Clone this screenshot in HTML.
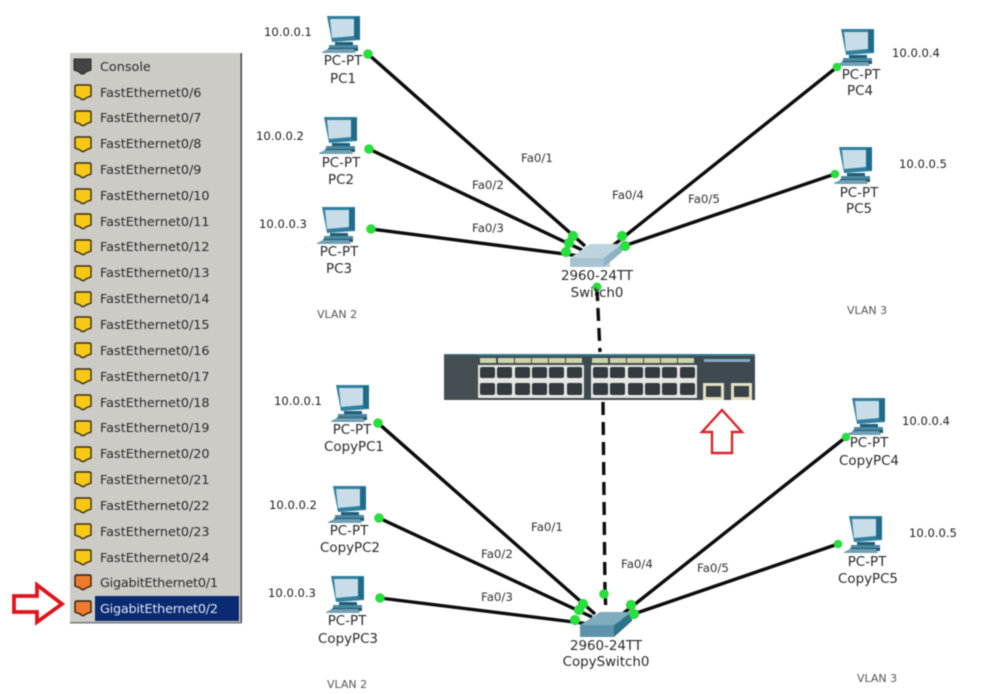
<!DOCTYPE html>
<html><head><meta charset="utf-8"><style>
html,body{margin:0;padding:0;background:#fff;width:982px;height:694px;overflow:hidden}
svg{display:block;filter:blur(.4px)}
text{font-family:"DejaVu Sans","Liberation Sans",sans-serif;font-size:12px;fill:#222}
.m{text-anchor:middle}
.s{font-size:11.600px;fill:#222}
.f{font-size:11.800px;fill:#333}
.v{font-size:11px;fill:#555}
.p{font-size:13.400px;fill:#2a2a2a}
.t{font-size:12.800px;fill:#2a2a2a}
.l{stroke:#0c0c0c;stroke-width:3.400;fill:none}
.d{fill:#22e33a;stroke:#4bbf50;stroke-width:.6}
</style></head><body>
<svg width="982" height="694" viewBox="0 0 982 694" xmlns="http://www.w3.org/2000/svg">
<defs>
<g id="pc">
<path d="M6 0H39V24L11 26Z" fill="#2f7f9f"/>
<path d="M9 3H33V20L11 22Z" fill="#c8dde8"/>
<path d="M33 1H39V24L33 22Z" fill="#1f6c8a"/>
<rect x="14" y="26" width="18" height="3" fill="#1d5f78"/>
<rect x="8" y="29" width="29" height="3" fill="#4b8aa2"/>
<path d="M7 32H37V35H7Z" fill="#23566c"/>
<path d="M1 36L7 33H33L35 37H1Z" fill="#6fa0b4"/>
</g>
<g id="y"><path d="M0 1.500Q0 0 2 0H14Q16 0 16 1.500V11L11 13L9 14.500H7L5 13L0 11Z" fill="#f7c916" stroke="#3a3010" stroke-width="1.400"/></g>
<g id="o"><path d="M0 1.500Q0 0 2 0H14Q16 0 16 1.500V11L11 13L9 14.500H7L5 13L0 11Z" fill="#ee7b2c" stroke="#33200f" stroke-width="1.400"/></g>
</defs>
<rect width="982" height="694" fill="#fff"/>

<!-- port panel -->
<rect x="70" y="53" width="172" height="570" fill="#cdcbc5"/>
<rect x="240.500" y="53" width="1.500" height="570" fill="#444"/>
<rect x="70" y="622" width="172" height="1.500" fill="#777"/>
<path d="M74 59H91V70L86 72L84 74H81L79 72L74 70Z" fill="#444" stroke="#2a2a2a" stroke-width="1"/>
<text class="t" x="100" y="71">Console</text>
<use href="#y" x="75" y="85"/><text class="t" x="100" y="97">FastEthernet0/6</text>
<use href="#y" x="75" y="111"/><text class="t" x="100" y="122">FastEthernet0/7</text>
<use href="#y" x="75" y="137"/><text class="t" x="100" y="148">FastEthernet0/8</text>
<use href="#y" x="75" y="163"/><text class="t" x="100" y="174">FastEthernet0/9</text>
<use href="#y" x="75" y="189"/><text class="t" x="100" y="200">FastEthernet0/10</text>
<use href="#y" x="75" y="214"/><text class="t" x="100" y="226">FastEthernet0/11</text>
<use href="#y" x="75" y="240"/><text class="t" x="100" y="251">FastEthernet0/12</text>
<use href="#y" x="75" y="266"/><text class="t" x="100" y="277">FastEthernet0/13</text>
<use href="#y" x="75" y="292"/><text class="t" x="100" y="303">FastEthernet0/14</text>
<use href="#y" x="75" y="317"/><text class="t" x="100" y="329">FastEthernet0/15</text>
<use href="#y" x="75" y="343"/><text class="t" x="100" y="355">FastEthernet0/16</text>
<use href="#y" x="75" y="369"/><text class="t" x="100" y="381">FastEthernet0/17</text>
<use href="#y" x="75" y="395"/><text class="t" x="100" y="407">FastEthernet0/18</text>
<use href="#y" x="75" y="421"/><text class="t" x="100" y="432">FastEthernet0/19</text>
<use href="#y" x="75" y="447"/><text class="t" x="100" y="458">FastEthernet0/20</text>
<use href="#y" x="75" y="472"/><text class="t" x="100" y="484">FastEthernet0/21</text>
<use href="#y" x="75" y="498"/><text class="t" x="100" y="510">FastEthernet0/22</text>
<use href="#y" x="75" y="524"/><text class="t" x="100" y="536">FastEthernet0/23</text>
<use href="#y" x="75" y="550"/><text class="t" x="100" y="562">FastEthernet0/24</text>
<use href="#o" x="75" y="575"/><text class="t" x="100" y="587" textLength="118">GigabitEthernet0/1</text>
<rect x="95" y="596" width="144" height="25" fill="#0a2a72"/>
<use href="#o" x="75" y="601"/><text class="t" x="100" y="613" textLength="118" style="fill:#dfe6f5">GigabitEthernet0/2</text>

<!-- red arrows -->
<path d="M14 596H37V585L62 604L37 622V612H14Z" fill="#fff" stroke="#e0141c" stroke-width="3.800"/>
<path d="M722 410L742 432H732V453H712V432H702Z" fill="#fff" stroke="#d8262a" stroke-width="2.400"/>

<!-- links top -->
<path class="l" d="M368 54L585 246M369 149L582 250M371 229L580 256M837 67L610 248M835 174L612 250"/>
<!-- links bottom -->
<path class="l" d="M378 423L595 614M379 518L592 617M380 598L590 624M846 437L620 616M838 544L622 618"/>
<!-- dashed trunk -->
<path d="M597 288L600 352M603 402L605 592M605 592L606 612" stroke="#0c0c0c" stroke-width="3.400" stroke-dasharray="13 7" fill="none"/>

<!-- switches -->
<path d="M570 258L590 244H622L610 258V267H570Z" fill="#bdd3de"/>
<path d="M570 258H604V267H570Z" fill="#a7c3d1"/>
<path d="M604 258L622 244V252L604 267Z" fill="#8fb3c5"/>
<path d="M580 625L600 612H632L614 625V637H580Z" fill="#7fadc0"/>
<path d="M580 625H614V637H580Z" fill="#5c93aa"/>
<path d="M614 625L632 612V621L614 637Z" fill="#2f7389"/>

<!-- PCs -->
<use href="#pc" x="321" y="16"/>
<use href="#pc" x="318" y="117"/>
<use href="#pc" x="316" y="207"/>
<use href="#pc" x="835" y="29"/>
<use href="#pc" x="833" y="147"/>
<use href="#pc" x="330" y="385"/>
<use href="#pc" x="327" y="486"/>
<use href="#pc" x="325" y="576"/>
<use href="#pc" x="846" y="398"/>
<use href="#pc" x="843" y="516"/>

<!-- hardware switch image -->
<rect x="444" y="355" width="311" height="45" fill="#3f4a50"/>
<rect x="444" y="354" width="311" height="2" fill="#2f7a90"/>
<rect x="444" y="355" width="34" height="45" fill="#454f53"/>
<g fill="#cfd4a6">
<rect x="480" y="358" width="16" height="5"/><rect x="498" y="358" width="16" height="5"/><rect x="515" y="358" width="16" height="5"/><rect x="532" y="358" width="16" height="5"/><rect x="549" y="358" width="16" height="5"/><rect x="566" y="358" width="16" height="5"/>
<rect x="592" y="358" width="16" height="5"/><rect x="610" y="358" width="16" height="5"/><rect x="627" y="358" width="16" height="5"/><rect x="644" y="358" width="16" height="5"/><rect x="661" y="358" width="16" height="5"/><rect x="678" y="358" width="16" height="5"/>
</g>
<rect x="478" y="365" width="106" height="33" fill="#e6e6e2"/>
<rect x="591" y="365" width="106" height="33" fill="#e6e6e2"/>
<g fill="#343b3f">
<rect x="480" y="367" width="15" height="11" rx="2"/><rect x="497" y="367" width="15" height="11" rx="2"/><rect x="515" y="367" width="15" height="11" rx="2"/><rect x="532" y="367" width="15" height="11" rx="2"/><rect x="549" y="367" width="15" height="11" rx="2"/><rect x="567" y="367" width="15" height="11" rx="2"/>
<rect x="593" y="367" width="15" height="11" rx="2"/><rect x="610" y="367" width="15" height="11" rx="2"/><rect x="628" y="367" width="15" height="11" rx="2"/><rect x="645" y="367" width="15" height="11" rx="2"/><rect x="662" y="367" width="15" height="11" rx="2"/><rect x="680" y="367" width="15" height="11" rx="2"/>
<rect x="480" y="383" width="15" height="12" rx="2"/><rect x="497" y="383" width="15" height="12" rx="2"/><rect x="515" y="383" width="15" height="12" rx="2"/><rect x="532" y="383" width="15" height="12" rx="2"/><rect x="549" y="383" width="15" height="12" rx="2"/><rect x="567" y="383" width="15" height="12" rx="2"/>
<rect x="593" y="383" width="15" height="12" rx="2"/><rect x="610" y="383" width="15" height="12" rx="2"/><rect x="628" y="383" width="15" height="12" rx="2"/><rect x="645" y="383" width="15" height="12" rx="2"/><rect x="662" y="383" width="15" height="12" rx="2"/><rect x="680" y="383" width="15" height="12" rx="2"/>
</g>
<rect x="704" y="359" width="46" height="3" fill="#8fa6c0"/>
<rect x="703" y="383" width="21" height="17" fill="#e3e0c4"/>
<rect x="731" y="383" width="21" height="17" fill="#e3e0c4"/>
<rect x="706" y="386" width="15" height="11" fill="#3a4145"/>
<rect x="734" y="386" width="15" height="11" fill="#3a4145"/>

<!-- dots -->
<circle class="d" cx="368" cy="54" r="4.500"/><circle class="d" cx="369" cy="149" r="4.500"/><circle class="d" cx="371" cy="229" r="4.500"/>
<circle class="d" cx="837" cy="67" r="4"/><circle class="d" cx="835" cy="174" r="4"/>
<circle class="d" cx="573" cy="236" r="4.800"/><circle class="d" cx="569" cy="243" r="4.800"/><circle class="d" cx="566" cy="252" r="4.800"/>
<circle class="d" cx="622" cy="236" r="4.800"/><circle class="d" cx="625" cy="246" r="4.800"/>
<circle class="d" cx="597" cy="287" r="4.200"/>
<circle class="d" cx="378" cy="423" r="4.500"/><circle class="d" cx="379" cy="518" r="4.500"/><circle class="d" cx="380" cy="598" r="4.500"/>
<circle class="d" cx="846" cy="437" r="4"/><circle class="d" cx="838" cy="544" r="4"/>
<circle class="d" cx="583" cy="604" r="4.800"/><circle class="d" cx="579" cy="610" r="4.800"/><circle class="d" cx="575" cy="620" r="4.800"/>
<circle class="d" cx="631" cy="605" r="4.800"/><circle class="d" cx="634" cy="614" r="4.800"/>
<circle class="d" cx="604" cy="594" r="4.500"/>

<!-- PC labels -->
<text class="p m" x="343" y="65">PC-PT</text><text class="p m" x="343" y="83">PC1</text>
<text class="p m" x="341" y="167">PC-PT</text><text class="p m" x="341" y="184">PC2</text>
<text class="p m" x="339" y="256">PC-PT</text><text class="p m" x="339" y="273">PC3</text>
<text class="p m" x="861" y="79">PC-PT</text><text class="p m" x="860" y="95">PC4</text>
<text class="p m" x="859" y="197">PC-PT</text><text class="p m" x="859" y="213">PC5</text>
<text class="p m" x="352" y="434">PC-PT</text><text class="p m" x="354" y="451">CopyPC1</text>
<text class="p m" x="349" y="535">PC-PT</text><text class="p m" x="350" y="552">CopyPC2</text>
<text class="p m" x="347" y="625">PC-PT</text><text class="p m" x="348" y="643">CopyPC3</text>
<text class="p m" x="869" y="447">PC-PT</text><text class="p m" x="869" y="465">CopyPC4</text>
<text class="p m" x="867" y="566">PC-PT</text><text class="p m" x="868" y="583">CopyPC5</text>
<text class="p m" x="597" y="280">2960-24TT</text><text class="p m" x="597" y="297">Switch0</text>
<text class="p m" x="606" y="650">2960-24TT</text><text class="p m" x="606" y="666">CopySwitch0</text>

<!-- IPs -->
<text class="s" x="264" y="36">10.0.0.1</text>
<text class="s" x="256" y="140">10.0.0.2</text>
<text class="s" x="259" y="228">10.0.0.3</text>
<text class="s" x="892" y="57">10.0.0.4</text>
<text class="s" x="899" y="168">10.0.0.5</text>
<text class="s" x="274" y="405">10.0.0.1</text>
<text class="s" x="269" y="509">10.0.0.2</text>
<text class="s" x="268" y="597">10.0.0.3</text>
<text class="s" x="902" y="425">10.0.0.4</text>
<text class="s" x="909" y="537">10.0.0.5</text>

<!-- port labels -->
<text class="f" x="521" y="162">Fa0/1</text>
<text class="f" x="472" y="189">Fa0/2</text>
<text class="f" x="472" y="232">Fa0/3</text>
<text class="f" x="612" y="199">Fa0/4</text>
<text class="f" x="688" y="203">Fa0/5</text>
<text class="f" x="531" y="531">Fa0/1</text>
<text class="f" x="481" y="558">Fa0/2</text>
<text class="f" x="481" y="601">Fa0/3</text>
<text class="f" x="621" y="568">Fa0/4</text>
<text class="f" x="697" y="572">Fa0/5</text>

<!-- VLAN -->
<text class="v" x="317" y="318">VLAN 2</text>
<text class="v" x="847" y="314">VLAN 3</text>
<text class="v" x="327" y="688">VLAN 2</text>
<text class="v" x="857" y="682">VLAN 3</text>
</svg>
</body></html>
